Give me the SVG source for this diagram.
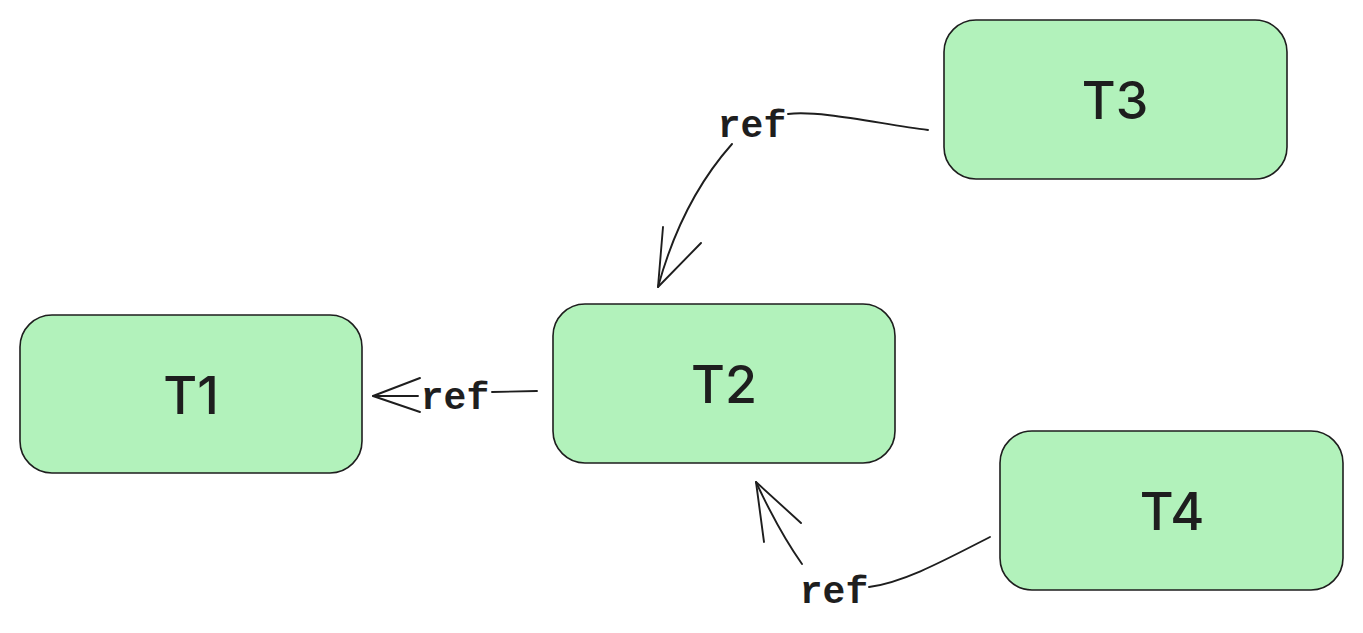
<svg xmlns="http://www.w3.org/2000/svg" width="1363" height="633" viewBox="0 0 1363 633">
<style>
.node rect{fill:#b2f2bb;stroke:#1e1e1e;stroke-width:1.6}
.node text{font-family:Inter,"Liberation Sans",sans-serif;font-weight:500;font-size:52px;fill:#1e1e1e;text-anchor:middle}
.edge path{fill:none;stroke:#1e1e1e;stroke-width:1.9;stroke-linecap:round;stroke-linejoin:round}
.edge text{font-family:"Liberation Mono","DejaVu Sans Mono",monospace;font-weight:700;font-size:38px;fill:#1e1e1e;text-anchor:middle}
</style>
<rect width="1363" height="633" fill="#ffffff"/>
<g id="T1" class="node"><rect x="20" y="315" width="342" height="158" rx="32"/><text x="191" y="414">T1</text></g>
<g id="T2" class="node"><rect x="553" y="304" width="342" height="159" rx="32"/><text x="724" y="403">T2</text></g>
<g id="T3" class="node"><rect x="944" y="20" width="343" height="159" rx="32"/><text x="1115" y="119">T3</text></g>
<g id="T4" class="node"><rect x="1000" y="431" width="343" height="159" rx="32"/><text x="1172" y="530">T4</text></g>
<g id="connectors">
<g id="e-T3-T2" class="edge">
<path d="M928,130 C880,124 820,110 788,114"/>
<path d="M732,144 C700,180 675,225 658,287"/>
<path d="M663,227 L658,287 L701,243"/>
<text x="752" y="137">ref</text>
</g>
<g id="e-T2-T1" class="edge">
<path d="M537,391 L492,392"/>
<path d="M420,378 L373,396 L420,412"/>
<path d="M373,396 L418,396"/>
<text x="455" y="409">ref</text>
</g>
<g id="e-T4-T2" class="edge">
<path d="M990,537 C945,560 905,582 869,587"/>
<path d="M802,564 C785,540 770,512 756,482"/>
<path d="M764,542 L756,482 L801,523"/>
<text x="834" y="603">ref</text>
</g>
</g>
</svg>
